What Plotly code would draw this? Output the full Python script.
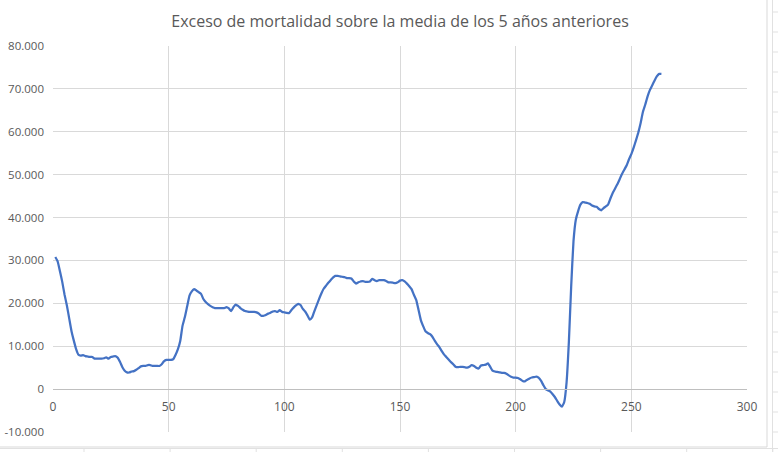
import plotly.graph_objects as go

# ---- data ----
dias = list(range(1, 264))
exceso = [
    30800, 29800, 27500, 25000, 22000, 19500, 16500, 13500, 11300, 9300,
    8000, 7800, 7900, 7700, 7600, 7500, 7500, 7100, 7100, 7100,
    7100, 7200, 7400, 7100, 7500, 7600, 7700, 7300, 6300, 5100,
    4300, 3900, 3900, 4100, 4200, 4500, 4900, 5300, 5400, 5400,
    5600, 5600, 5400, 5400, 5400, 5400, 5800, 6500, 6800, 6800,
    6800, 7000, 8000, 9300, 11200, 14800, 16800, 19300, 21800, 22800,
    23300, 23000, 22600, 22200, 21000, 20300, 19800, 19400, 19100, 18900,
    18900, 18900, 18900, 18900, 19100, 18800, 18200, 19100, 19700, 19400,
    18900, 18500, 18200, 18100, 18000, 18000, 18000, 17900, 17600, 17100,
    17100, 17300, 17600, 17800, 18100, 18200, 18000, 18400, 18000, 17900,
    17800, 17700, 18400, 19000, 19500, 19900, 19600, 18700, 18100, 17200,
    16200, 16700, 18200, 19600, 21000, 22300, 23400, 24100, 24800, 25400,
    26000, 26400, 26400, 26300, 26200, 26100, 25900, 25900, 25800, 25100,
    24600, 24900, 25100, 25200, 25000, 25000, 25100, 25700, 25400, 25200,
    25400, 25400, 25400, 25200, 24900, 24900, 24800, 24700, 24900, 25300,
    25400, 25100, 24600, 24000, 23300, 22000, 20800, 18500, 16100, 14700,
    13500, 13100, 12800, 12200, 11300, 10500, 9800, 8900, 8100, 7500,
    6900, 6300, 5800, 5200, 5100, 5200, 5200, 5100, 5000, 5200,
    5600, 5400, 5000, 4800, 5500, 5600, 5700, 6000, 5200, 4300,
    4100, 4000, 3900, 3800, 3800, 3600, 3200, 2900, 2700, 2700,
    2600, 2300, 1900, 1800, 2200, 2500, 2700, 2800, 2900, 2600,
    1900, 900, 0, -300, -600, -1200, -1900, -2800, -3600, -4100,
    -3000, 1500, 11000, 24000, 34500, 39500, 41500, 43000, 43600, 43500,
    43400, 43200, 42800, 42600, 42500, 42000, 41700, 42200, 42600, 43100,
    44500, 45800, 46800, 47800, 49000, 50200, 51200, 52200, 53600, 54800,
    56300, 58000, 59800, 62000, 64600, 66300, 68200, 69700, 70800, 71900,
    72900, 73500, 73500,
]
x_ticks = [0, 50, 100, 150, 200, 250, 300]
y_ticks = [-10000, 0, 10000, 20000, 30000, 40000, 50000, 60000, 70000, 80000]
y_labels = ["-10.000", "0", "10.000", "20.000", "30.000", "40.000",
            "50.000", "60.000", "70.000", "80.000"]
titulo = "Exceso de mortalidad sobre la media de los 5 años anteriores"

# ---- figure ----
W, H = 778, 452
ml, mr, mt, mb = 53, 31, 46, 20
pw, ph = W - ml - mr, H - mt - mb

def px_x(p):
    return (p - ml) / pw

def px_y(p):
    return (H - mb - p) / ph

fig = go.Figure()
fig.add_trace(go.Scatter(
    x=dias, y=exceso, mode="lines",
    line=dict(color="#4472C4", width=2.25, shape="spline", smoothing=0.4),
    hoverinfo="skip", showlegend=False,
))

grid = "#d9d9d9"
txt = "#595959"
font_fam = "Open Sans, Liberation Sans, sans-serif"

shapes = []
# Excel chart-area border
shapes.append(dict(type="rect", xref="paper", yref="paper",
                   x0=px_x(-2), x1=px_x(767), y0=px_y(447), y1=px_y(-2),
                   line=dict(color="#d9d9d9", width=1), layer="below"))
# spreadsheet cell lines outside the chart
cell = "#e1e1e1"
shapes.append(dict(type="line", xref="paper", yref="paper",
                   x0=px_x(772.5), x1=px_x(772.5), y0=px_y(452), y1=px_y(0),
                   line=dict(color=cell, width=1)))
for yy in range(12, 452, 20):
    shapes.append(dict(type="line", xref="paper", yref="paper",
                       x0=px_x(772.5), x1=px_x(778), y0=px_y(yy), y1=px_y(yy),
                       line=dict(color=cell, width=1)))
shapes.append(dict(type="line", xref="paper", yref="paper",
                   x0=px_x(0), x1=px_x(778), y0=px_y(448.5), y1=px_y(448.5),
                   line=dict(color=cell, width=1)))
for k in range(9):
    xx = 84 + k * 86.1
    shapes.append(dict(type="line", xref="paper", yref="paper",
                       x0=px_x(xx), x1=px_x(xx), y0=px_y(448.5), y1=px_y(452),
                       line=dict(color=cell, width=1)))

fig.update_layout(
    width=W, height=H,
    margin=dict(l=ml, r=mr, t=mt, b=mb, pad=0, autoexpand=False),
    paper_bgcolor="white", plot_bgcolor="white",
    title=dict(text=titulo, x=0.5, xref="paper", xanchor="center",
               y=1 - 21 / H, yanchor="middle", automargin=False,
               font=dict(family=font_fam, size=16, color=txt)),
    xaxis=dict(range=[0, 300], tickvals=x_ticks, automargin=False,
               showgrid=True, gridcolor=grid, gridwidth=1,
               zeroline=False, showline=True, linecolor="#bfbfbf", linewidth=1,
               anchor="free", position=10000 / 90000,
               ticks="", ticklabelstandoff=6,
               tickfont=dict(family=font_fam, size=12, color=txt)),
    yaxis=dict(range=[-10000, 80000], tickvals=y_ticks, ticktext=y_labels,
               automargin=False,
               showgrid=True, gridcolor=grid, gridwidth=1,
               zeroline=False, showline=False,
               ticks="", ticklabelstandoff=8,
               tickfont=dict(family=font_fam, size=11.5, color=txt)),
    shapes=shapes,
)

fig.write_html(
    "out.html",
    config={"displayModeBar": False, "staticPlot": True},
    post_script="document.body.style.margin='0';document.body.style.overflow='hidden';",
)
